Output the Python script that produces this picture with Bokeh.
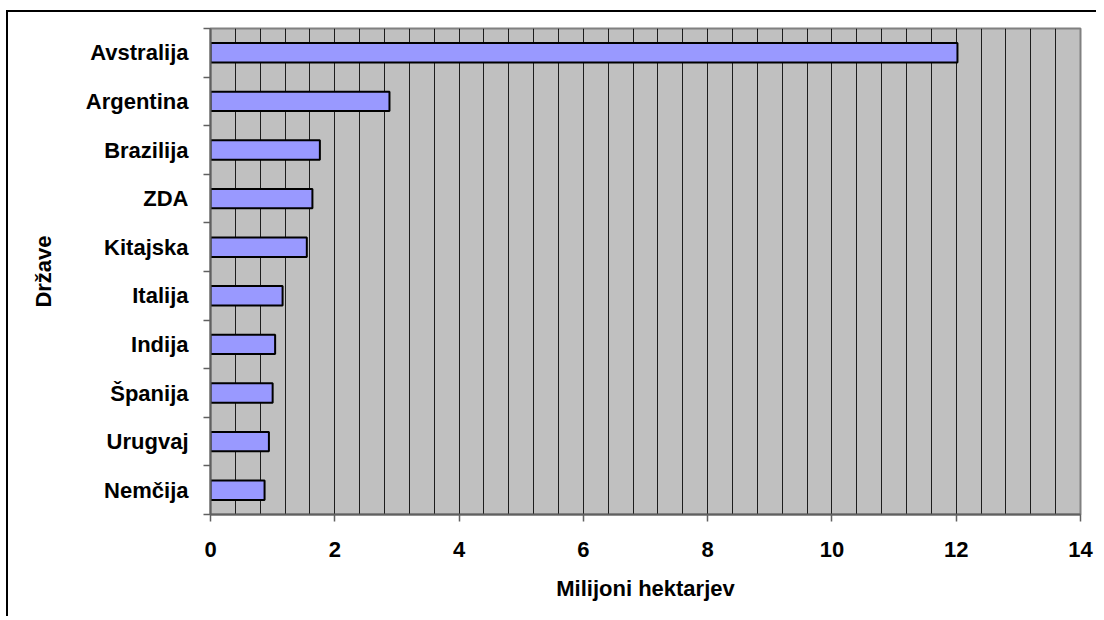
from bokeh.plotting import figure
from bokeh.models import FixedTicker, ColumnDataSource, Range1d
from bokeh.embed import file_html
from bokeh.resources import INLINE

countries = ["Avstralija", "Argentina", "Brazilija", "ZDA", "Kitajska",
             "Italija", "Indija", "Španija", "Urugvaj", "Nemčija"]
hectares = [12.02, 2.88, 1.76, 1.64, 1.55, 1.16, 1.04, 1.00, 0.94, 0.87]
x_ticks = [0, 2, 4, 6, 8, 10, 12, 14]
x_title = "Milijoni hektarjev"
y_title = "Države"

n = len(countries)
ypos = [n - 0.5 - i for i in range(n)]
src = ColumnDataSource(dict(y=ypos, right=hectares, name=countries))

FONT = "Liberation Sans"
FS = "22px"

p = figure(width=1090, height=606, output_backend="svg", toolbar_location=None,
           x_range=Range1d(0, 14), y_range=Range1d(0, n),
           min_border_left=202, min_border_top=16, min_border_bottom=104,
           min_border_right=18,
           styles={"border-left": "2px solid #000000", "border-top": "2px solid #000000",
                   "margin-left": "6px", "margin-top": "10px"})

p.background_fill_color = "#C0C0C0"
p.border_fill_color = "#FFFFFF"
p.outline_line_color = "#808080"
p.outline_line_width = 2

p.hbar(y="y", left=0, right="right", height=0.4, source=src,
       fill_color="#9999FF", line_color="#000000", line_width=2)

# grid
p.ygrid.visible = False
p.xgrid.ticker = FixedTicker(ticks=[round(0.4 * k, 1) for k in range(36)])
p.xgrid.grid_line_color = "#000000"
p.xgrid.grid_line_width = 1
p.xgrid.grid_line_alpha = 0.85

# x axis
xa = p.xaxis[0]
xa.ticker = FixedTicker(ticks=x_ticks, minor_ticks=[])
xa.axis_line_color = "#606060"
xa.axis_line_width = 2
xa.major_tick_line_color = "#606060"
xa.major_tick_line_width = 1.5
xa.major_tick_out = 7
xa.major_tick_in = 0
xa.minor_tick_line_color = None
xa.major_label_standoff = 20
xa.major_label_text_font = FONT
xa.major_label_text_font_style = "bold"
xa.major_label_text_font_size = FS
xa.major_label_text_color = "#000000"
xa.axis_label = x_title
xa.axis_label_text_font = FONT
xa.axis_label_text_font_style = "bold"
xa.axis_label_text_font_size = FS
xa.axis_label_text_color = "#000000"
xa.axis_label_standoff = 16

# y axis (ticks at category boundaries)
ya = p.yaxis[0]
ya.ticker = FixedTicker(ticks=ypos, minor_ticks=list(range(n + 1)))
ya.major_label_overrides = {y: c for y, c in zip(ypos, countries)}
ya.axis_line_color = "#606060"
ya.axis_line_width = 2
ya.major_tick_line_color = None
ya.major_tick_out = 0
ya.major_tick_in = 0
ya.minor_tick_line_color = "#606060"
ya.minor_tick_line_width = 1.5
ya.minor_tick_out = 7
ya.minor_tick_in = 0
ya.major_label_standoff = 15
ya.major_label_text_font = FONT
ya.major_label_text_font_style = "bold"
ya.major_label_text_font_size = FS
ya.major_label_text_color = "#000000"
ya.axis_label = y_title
ya.axis_label_text_font = FONT
ya.axis_label_text_font_style = "bold"
ya.axis_label_text_font_size = FS
ya.axis_label_text_color = "#000000"
ya.axis_label_standoff = 27

open("out.html", "w").write(file_html(p, INLINE))
